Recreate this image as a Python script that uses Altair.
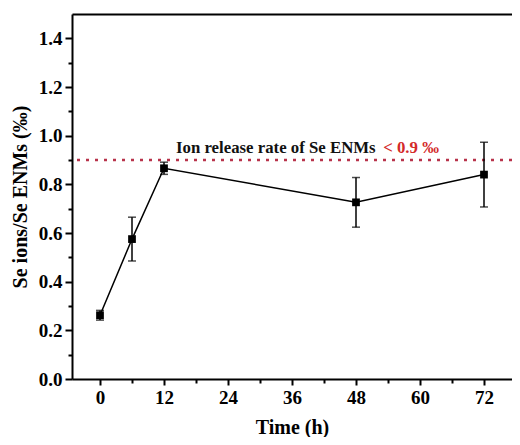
import altair as alt
import pandas as pd

# ---- data ----
times = [0, 6, 12, 48, 72]
values = [0.262, 0.575, 0.866, 0.726, 0.840]
errors = [0.020, 0.090, 0.025, 0.102, 0.133]

x_major = [0, 12, 24, 36, 48, 60, 72]
x_minor = [6, 18, 30, 42, 54, 66]
y_major = [0.0, 0.2, 0.4, 0.6, 0.8, 1.0, 1.2, 1.4]
y_minor = [0.1, 0.3, 0.5, 0.7, 0.9, 1.1, 1.3]

threshold = [0.9]
note_texts = ["Ion release rate of Se ENMs", "< 0.9 \u2030"]
note_x = [14.25, 53.1]
note_y = [0.927, 0.927]
note_colors = ["#111111", "#d42a2a"]

x_title = "Time (h)"
y_title = "Se ions/Se ENMs (\u2030)"

FONT = "Liberation Serif"

df = pd.DataFrame({
    "t": times,
    "v": values,
    "lo": [v - e for v, e in zip(values, errors)],
    "hi": [v + e for v, e in zip(values, errors)],
})
notes = pd.DataFrame({"x": note_x, "y": note_y, "text": note_texts, "c": note_colors})
thr = pd.DataFrame({"y": threshold})

xscale = alt.Scale(domain=[-5.25, 77.25], nice=False, zero=False)
yscale = alt.Scale(domain=[0, 1.5], nice=False, zero=False)

base = alt.Chart(df)

thr_line = alt.Chart(thr).mark_rule(
    color="#b8324a", strokeDash=[3, 6], strokeWidth=2.5
).encode(y=alt.Y("y:Q", scale=yscale, axis=None))

line = base.mark_line(color="black", strokeWidth=1.5).encode(
    x=alt.X("t:Q", scale=xscale,
            axis=alt.Axis(values=x_major, format="d", title=x_title, orient="bottom",
                          tickSize=6, labelPadding=3, titlePadding=10)),
    y=alt.Y("v:Q", scale=yscale,
            axis=alt.Axis(values=y_major, format=".1f", title=y_title, orient="left",
                          tickSize=7, labelPadding=3, titlePadding=8)),
)

bars = base.mark_rule(color="black", strokeWidth=1.5).encode(
    x=alt.X("t:Q", scale=xscale,
            axis=alt.Axis(values=x_minor, labels=False, domain=False, title=None,
                          orient="bottom", tickSize=4)),
    y=alt.Y("lo:Q", scale=yscale,
            axis=alt.Axis(values=y_minor, labels=False, domain=False, title=None,
                          orient="left", tickSize=4)),
    y2="hi:Q",
)

cap_lo = base.mark_tick(orient="horizontal", size=8, thickness=1.5, color="black").encode(
    x=alt.X("t:Q", scale=xscale,
            axis=alt.Axis(orient="top", ticks=False, labels=False, title=None, domain=True)),
    y=alt.Y("lo:Q", scale=yscale, axis=None),
)
cap_hi = base.mark_tick(orient="horizontal", size=8, thickness=1.5, color="black").encode(
    x=alt.X("t:Q", scale=xscale, axis=None),
    y=alt.Y("hi:Q", scale=yscale, axis=None),
)

points = base.mark_square(size=60, color="black", opacity=1).encode(
    x=alt.X("t:Q", scale=xscale, axis=None),
    y=alt.Y("v:Q", scale=yscale, axis=None),
)

text = alt.Chart(notes).mark_text(
    align="left", baseline="alphabetic", font=FONT, fontSize=16.8, fontWeight="bold"
).encode(
    x=alt.X("x:Q", scale=xscale, axis=None),
    y=alt.Y("y:Q", scale=yscale, axis=None),
    text="text:N",
    color=alt.Color("c:N", scale=None),
)

chart = alt.layer(thr_line, line, bars, cap_lo, cap_hi, points, text).resolve_axis(
    x="independent", y="independent"
).properties(
    width=440, height=365,
    autosize=alt.AutoSizeParams(type="none"),
    padding={"left": 64, "top": 6, "right": 0, "bottom": 58},
).configure_view(stroke=None).configure_axis(
    domainColor="black", domainWidth=2, tickColor="black", tickWidth=2, grid=False,
    labelFont=FONT, labelFontSize=19, labelFontWeight="bold", labelColor="black",
    titleFont=FONT, titleFontSize=20, titleFontWeight="bold", titleColor="black",
)

chart.save("out.html", embed_options={"renderer": "svg", "actions": False})
